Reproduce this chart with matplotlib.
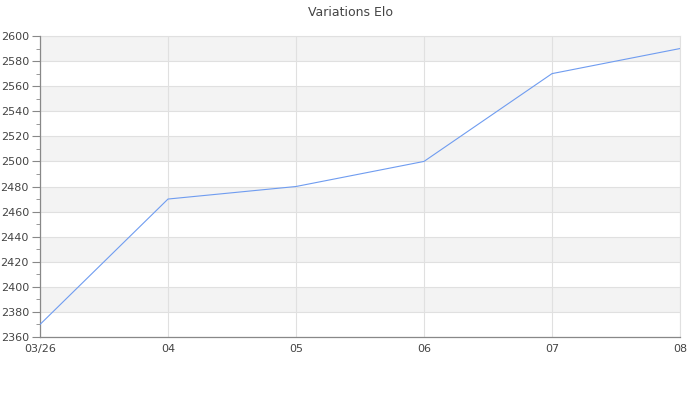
import matplotlib
matplotlib.use("Agg")
import matplotlib.pyplot as plt
from matplotlib.ticker import MultipleLocator

# data
months = ["03/26", "04", "05", "06", "07", "08"]
elo = [2370, 2470, 2480, 2500, 2570, 2590]

text_col = "#444444"
grid_col = "#e0e0e0"
band_col = "#f3f3f3"

fig = plt.figure(figsize=(7, 4), dpi=100)
ax = fig.add_axes([40 / 700, 1 - 337 / 400, 640 / 700, 301 / 400])

x = list(range(len(months)))
ax.plot(x, elo, color="#6f9cf0", lw=0.8, zorder=3)

ax.set_xlim(0, len(months) - 1)
ax.set_ylim(2360, 2600)

# alternating bands
for y0 in range(2380, 2600, 40):
    ax.axhspan(y0, y0 + 20, color=band_col, lw=0, zorder=0)

ax.set_xticks(x)
ax.set_xticklabels(months)
ax.yaxis.set_major_locator(MultipleLocator(20))
ax.yaxis.set_minor_locator(MultipleLocator(10))
ax.grid(True, which="major", color=grid_col, lw=0.8, zorder=1)
ax.set_axisbelow(True)
# grid line on the right edge
ax.axvline(x[-1], color=grid_col, lw=0.8, zorder=1, clip_on=False)
ax.axhline(2600, color=grid_col, lw=0.8, zorder=1, clip_on=False)

for s in ["top", "right"]:
    ax.spines[s].set_visible(False)
for s in ["left", "bottom"]:
    ax.spines[s].set_color("#888888")
    ax.spines[s].set_linewidth(0.9)

ax.tick_params(axis="y", which="major", length=6, color="#888888", labelsize=8,
               labelcolor=text_col, pad=2)
ax.tick_params(axis="y", which="minor", length=3, color="#888888")
ax.tick_params(axis="x", which="major", length=0, labelsize=8,
               labelcolor=text_col, pad=5)

fig.suptitle("Variations Elo", y=0.985, fontsize=9, color=text_col)

fig.savefig("out.png", dpi=100)
